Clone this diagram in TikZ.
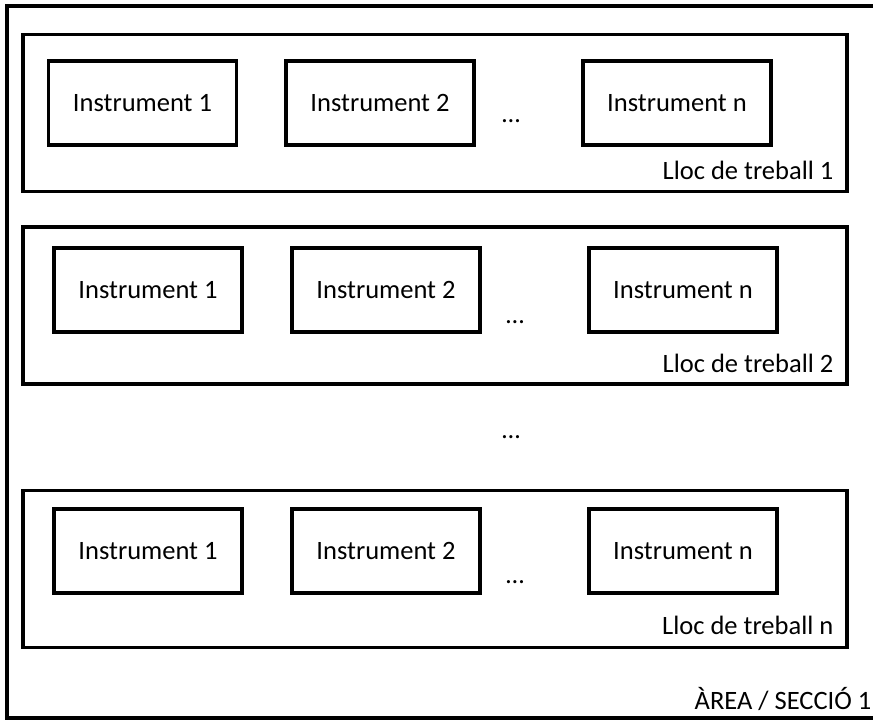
\documentclass[tikz,border=0pt]{standalone}
\usepackage{fontspec}
\setmainfont{Carlito}
\begin{document}
\begin{tikzpicture}[x=1pt,y=-1pt,line width=3.3pt,
    area/.style={draw,minimum width=869pt,minimum height=712pt},
    lloc/.style={draw,minimum width=824pt,minimum height=157pt},
    instr/.style={draw,minimum width=188pt,minimum height=84pt,font=\fontsize{26.5}{30}\selectfont},
    etiq/.style={anchor=east,inner sep=0pt,font=\fontsize{26.5}{30}\selectfont},
    punts/.style={inner sep=0pt,font=\fontsize{26}{30}\selectfont}]
      \clip (0,0) rectangle (873,722);
      \node[area] (A) at (441.5,362) {};

      \node[lloc] (L1) at (435,113) {};
      \node[lloc] (L2) at (435,305.5) {};
      \node[lloc] (L3) at (435,569) {};

      \node[instr] (B) at (142.5,103) {Instrument 1};
      \node[instr] (C) at (380,103) {Instrument 2};
      \node[instr] (D) at (677,103) {Instrument n};

      \node[instr] (E) at (148,290) {Instrument 1};
      \node[instr] (F) at (386,290) {Instrument 2};
      \node[instr] (G) at (683,290) {Instrument n};

      \node[instr] (H) at (148,551) {Instrument 1};
      \node[instr] (I) at (386,551) {Instrument 2};
      \node[instr] (J) at (683,551) {Instrument n};

      \node[punts] (P1) at (511,121) {\ldots};
      \node[punts] (P2) at (515,322) {\ldots};
      \node[punts] (P3) at (511,437) {\ldots};
      \node[punts] (P4) at (515,582) {\ldots};

      \node[etiq] (T1) at (835,170) {Lloc de treball 1};
      \node[etiq] (T2) at (835,363) {Lloc de treball 2};
      \node[etiq] (T3) at (835,625) {Lloc de treball n};
      \node[etiq] (T4) at (873,699) {ÀREA\ / SECCIÓ 1};
    \end{tikzpicture}
\end{document}
